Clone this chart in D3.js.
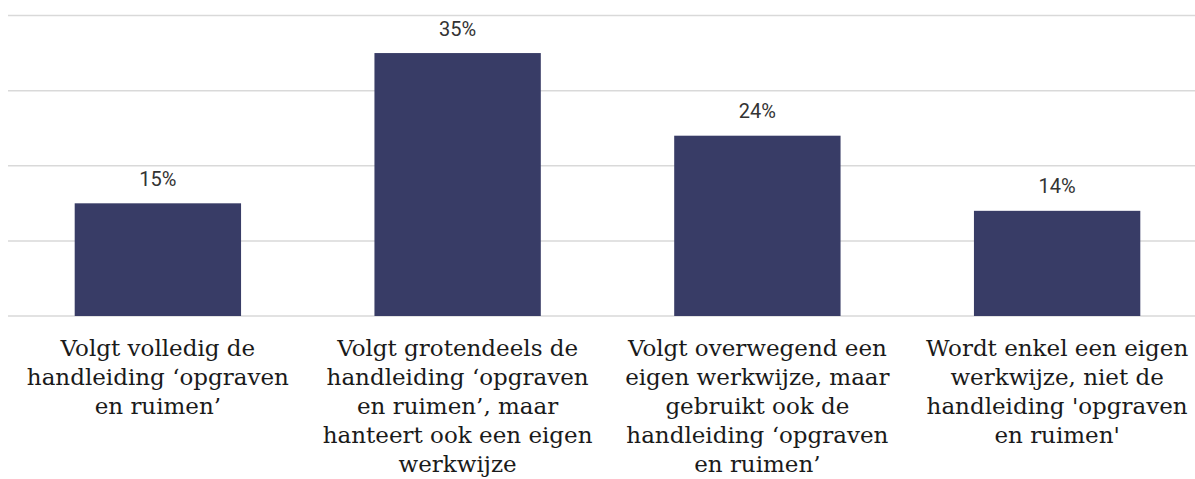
<!DOCTYPE html>
<html>
<head>
<meta charset="utf-8">
<script src="https://cdn.jsdelivr.net/npm/d3@7"></script>
<style>
  body { margin: 0; background: #fff; }
</style>
</head>
<body>
<div id="chart"></div>
<script>
const categories = [
  ["Volgt volledig de", "handleiding \u2018opgraven", "en ruimen\u2019"],
  ["Volgt grotendeels de", "handleiding \u2018opgraven", "en ruimen\u2019, maar", "hanteert ook een eigen", "werkwijze"],
  ["Volgt overwegend een", "eigen werkwijze, maar", "gebruikt ook de", "handleiding \u2018opgraven", "en ruimen\u2019"],
  ["Wordt enkel een eigen", "werkwijze, niet de", "handleiding 'opgraven", "en ruimen'"]
]
const values = [15, 35, 24, 14]
const gridTicks = [0, 10, 20, 30, 40]

const width = 1195, height = 479

const svg = d3.select("#chart")
  .append("svg")
    .attr("width", width)
    .attr("height", height)

const x = d3.scaleBand()
  .domain(d3.range(values.length))
  .range([8, 1207])
  .paddingInner(0.445)
  .paddingOuter(0.2225)

const y = d3.scaleLinear()
  .domain([0, 40])
  .range([316, 15.5])

// gridlines
svg.append("g")
  .selectAll("line")
  .data(gridTicks)
  .join("line")
    .attr("x1", 8)
    .attr("x2", width)
    .attr("y1", d => y(d))
    .attr("y2", d => y(d))
    .attr("stroke", "#d9d9d9")
    .attr("stroke-width", 1.5)

// bars
svg.append("g")
  .selectAll("rect")
  .data(values)
  .join("rect")
    .attr("x", (d, i) => x(i))
    .attr("y", d => y(d))
    .attr("width", x.bandwidth())
    .attr("height", d => y(0) - y(d))
    .attr("fill", "#383c66")

// value labels
svg.append("g")
  .selectAll("text")
  .data(values)
  .join("text")
    .attr("x", (d, i) => x(i) + x.bandwidth() / 2)
    .attr("y", d => y(d) - 17.5)
    .attr("text-anchor", "middle")
    .style("font-family", "Roboto, sans-serif")
    .style("font-size", "20px")
    .style("fill", "#333")
    .text(d => d + "%")

// category labels
const labels = svg.append("g")
  .selectAll("text")
  .data(categories)
  .join("text")
    .attr("x", (d, i) => x(i) + x.bandwidth() / 2)
    .attr("y", 356)
    .attr("text-anchor", "middle")
    .style("font-family", "'DejaVu Serif', serif")
    .style("font-size", "23px")
    .style("fill", "#1a1a1a")

labels.selectAll("tspan")
  .data(d => d)
  .join("tspan")
    .attr("x", function() { return d3.select(this.parentNode).attr("x") })
    .attr("dy", (d, i) => i === 0 ? 0 : 29)
    .text(d => d)
</script>
</body>
</html>
